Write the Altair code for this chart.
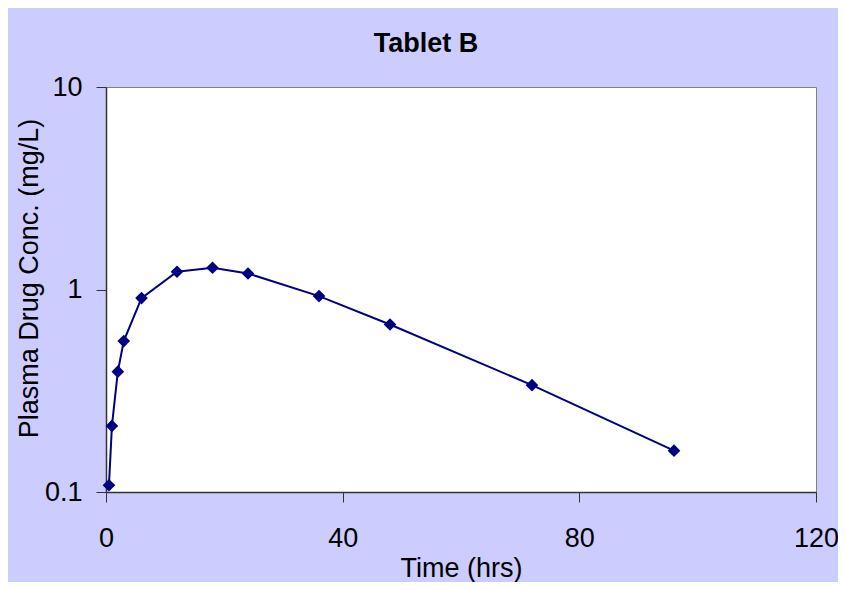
import altair as alt
import pandas as pd

time_hrs = [0.5, 1, 2, 3, 6, 12, 18, 24, 36, 48, 72, 96]
conc_mg_l = [0.108, 0.212, 0.393, 0.556, 0.907, 1.224, 1.28, 1.20, 0.928, 0.672, 0.337, 0.160]
x_ticks = [0, 40, 80, 120]
y_ticks = [0.1, 1, 10]

df = pd.DataFrame({"Time": time_hrs, "Conc": conc_mg_l})

FONT = "Liberation Sans"
NAVY = "#000080"

x = alt.X("Time:Q", scale=alt.Scale(domain=[0, 120], nice=False),
          axis=alt.Axis(values=x_ticks, title="Time (hrs)", grid=False, labelFlush=False,
                        tickSize=10, labelPadding=23, titlePadding=4,
                        labelFontSize=27, titleFontSize=27, titleFontWeight="normal"))
y = alt.Y("Conc:Q", scale=alt.Scale(type="log", domain=[0.1, 10], nice=False),
          axis=alt.Axis(values=y_ticks, format="~g", title="Plasma Drug Conc. (mg/L)",
                        grid=False, labelFlush=False, tickSize=10, labelPadding=14,
                        titleX=-69, titleY=191, titleBaseline="alphabetic", titleAngle=270,
                        labelFontSize=27, titleFontSize=27, titleFontWeight="normal"))

line = alt.Chart(df).mark_line(color=NAVY, strokeWidth=2).encode(x=x, y=y)
pts = alt.Chart(df).mark_point(shape="diamond", filled=True, size=160, color=NAVY, opacity=1).encode(x=x, y=y)

chart = alt.layer(line, pts).properties(
    width=710, height=405,
    title=alt.TitleParams("Tablet B", fontSize=27, fontWeight="bold", font=FONT,
                          anchor="middle", frame="group", dx=-35, offset=15),
    background="#CCCCFF",
    padding={"left": 98, "top": 79, "right": 22, "bottom": 90},
    autosize=alt.AutoSizeParams(type="none"),
).configure_view(
    fill="white", stroke="#808080", strokeWidth=1
).configure_axis(
    labelFont=FONT, titleFont=FONT, labelColor="black", titleColor="black",
    domainColor="#333333", tickColor="#333333", domainWidth=1.5, tickWidth=1
)

chart.save("out.html", embed_options={"renderer": "svg", "actions": False})
